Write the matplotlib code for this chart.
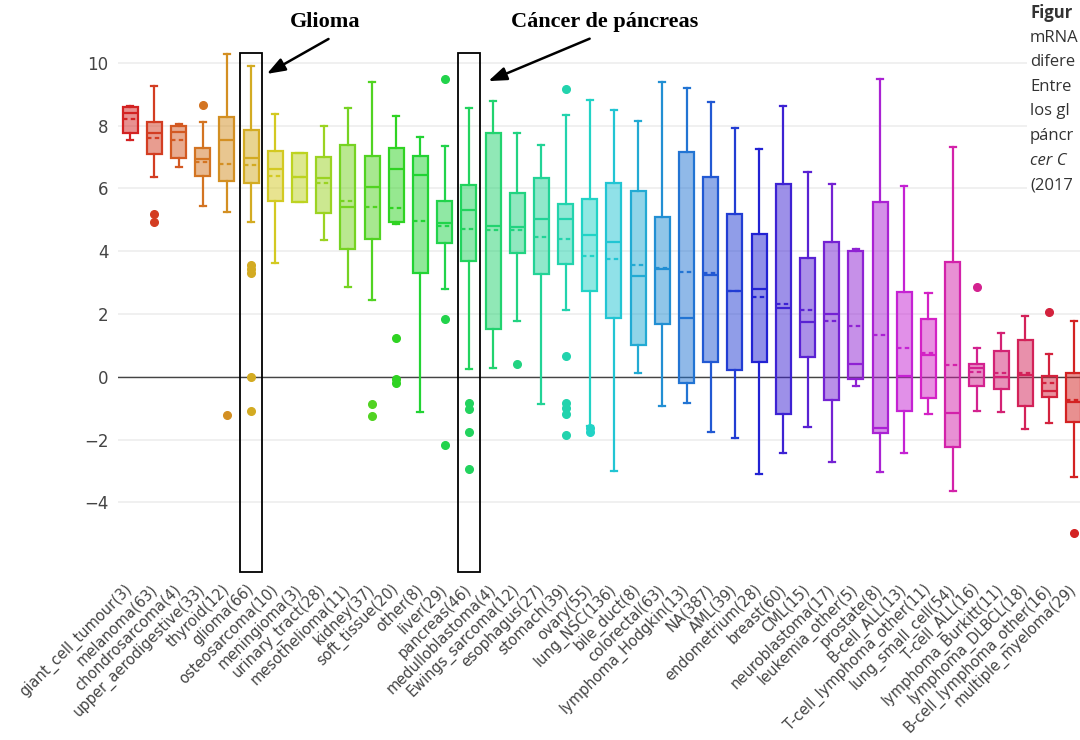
import colorsys
import numpy as np
import matplotlib
matplotlib.use("Agg")
import matplotlib.pyplot as plt
from matplotlib.patches import Rectangle

# expression per tumour type (box stats read per group)
labels = ["giant_cell_tumour(3)", "melanoma(63)", "chondrosarcoma(4)", "upper_aerodigestive(33)",
          "thyroid(12)", "glioma(66)", "osteosarcoma(10)", "meningioma(3)", "urinary_tract(28)",
          "mesothelioma(11)", "kidney(37)", "soft_tissue(20)", "other(8)", "liver(29)",
          "pancreas(46)", "medulloblastoma(4)", "Ewings_sarcoma(12)", "esophagus(27)",
          "stomach(39)", "ovary(55)", "lung_NSC(136)", "bile_duct(8)", "colorectal(63)",
          "lymphoma_Hodgkin(13)", "NA(387)", "AML(39)", "endometrium(28)", "breast(60)",
          "CML(15)", "neuroblastoma(17)", "leukemia_other(5)", "prostate(8)", "B-cell_ALL(13)",
          "T-cell_lymphoma_other(11)", "lung_small_cell(54)", "T-cell_ALL(16)",
          "lymphoma_Burkitt(11)", "lymphoma_DLBCL(18)", "B-cell_lymphoma_other(16)",
          "multiple_myeloma(29)"]

q1 = [7.75, 7.08, 6.95, 6.40, 6.23, 6.18, 5.59, 5.55, 5.20, 4.06, 4.38, 4.93, 3.29, 4.25,
      3.68, 1.53, 3.93, 3.26, 3.58, 2.73, 1.88, 1.00, 1.69, -0.19, 0.48, 0.21, 0.48, -1.20,
      0.64, -0.74, -0.07, -1.78, -1.08, -0.67, -2.23, -0.29, -0.39, -0.92, -0.64, -1.43]
med = [8.40, 7.77, 7.80, 6.92, 7.54, 6.95, 6.63, 6.37, 6.32, 5.41, 6.05, 6.62, 6.42, 4.88,
       5.31, 4.80, 4.78, 5.01, 5.03, 4.50, 4.30, 3.21, 3.42, 1.86, 3.24, 2.74, 2.78, 2.18,
       1.73, 1.99, 0.40, -1.62, 0.03, 0.69, -1.17, 0.27, 0.00, 0.05, -0.46, -0.80]
q3 = [8.60, 8.12, 7.98, 7.29, 8.28, 7.86, 7.19, 7.14, 6.99, 7.38, 7.03, 7.29, 7.03, 5.59,
      6.09, 7.77, 5.84, 6.32, 5.51, 5.65, 6.16, 5.93, 5.10, 7.17, 6.37, 5.18, 4.56, 6.13,
      3.79, 4.30, 4.00, 5.55, 2.71, 1.83, 3.66, 0.40, 0.83, 1.17, 0.03, 0.11]
lo = [7.55, 6.37, 6.69, 5.45, 5.25, 4.94, 3.63, 5.55, 4.35, 2.87, 2.44, 4.85, -1.13, 2.80,
      0.23, 0.29, 1.79, -0.86, 2.12, -1.57, -3.00, 0.13, -0.93, -0.83, -1.75, -1.94, -3.10,
      -2.44, -1.59, -2.71, -0.30, -3.05, -2.44, -1.20, -3.63, -1.08, -1.11, -1.67, -1.49,
      -3.18]
hi = [8.62, 9.26, 8.05, 8.10, 10.28, 9.90, 8.37, 7.14, 7.98, 8.55, 9.39, 8.30, 7.64, 7.35,
      8.57, 8.78, 7.75, 7.37, 8.35, 8.80, 8.49, 8.14, 9.39, 9.18, 8.74, 7.93, 7.24, 8.63,
      6.51, 6.13, 4.06, 9.47, 6.07, 2.68, 7.30, 0.93, 1.38, 1.93, 0.71, 1.78]
mean = [8.20, 7.59, 7.54, 6.85, 6.77, 6.74, 6.39, 6.35, 6.18, 5.60, 5.39, 5.38, 4.96, 4.80,
        4.69, 4.67, 4.67, 4.46, 4.37, 3.84, 3.74, 3.55, 3.45, 3.34, 3.30, 2.72, 2.55, 2.31,
        2.12, 1.78, 1.62, 1.33, 0.90, 0.74, 0.37, 0.16, 0.13, 0.11, -0.21, -0.75]
outliers = [[], [5.18, 4.94], [], [8.65], [-1.22], [3.56, 3.42, 3.29, 0.0, -1.09], [], [], [],
            [], [-0.88, -1.25], [1.22, -0.08, -0.21], [], [9.47, 1.85, -2.19],
            [-0.83, -1.02, -1.76, -2.95], [], [0.42], [],
            [9.15, 0.66, -0.83, -0.99, -1.18, -1.87], [-1.62, -1.76], [], [], [], [], [], [],
            [], [], [], [], [], [], [], [], [], [2.85], [], [], [2.07], [-4.97]]

# caption column, cut by the right page edge
caption = ["Figur", "mRNA", "difere", "Entre", "los gl", "páncr", "cer C", "(2017"]

n = len(labels)


def box_color(i):
    # hue wheel from red back to red, pushed a bit faster through yellow-green
    h = 360.0 * i / (n - 1)
    h += 15 * np.exp(-((h - 110) / 35) ** 2)
    return colorsys.hls_to_rgb((h % 360) / 360, 0.48, 0.72)


fig = plt.figure(figsize=(10.8, 7.4), dpi=100)
ax = fig.add_axes([0.1093, 0.2406, 0.896, 0.7001])

for i in range(n):
    c = box_color(i)
    st = dict(q1=q1[i], med=med[i], q3=q3[i], whislo=lo[i], whishi=hi[i],
              mean=mean[i], fliers=outliers[i])
    ax.bxp([st], positions=[i], widths=0.62, capwidths=0.25, patch_artist=True,
           showmeans=True, meanline=True,
           boxprops=dict(facecolor=(*c, 0.5), edgecolor=c, linewidth=1.6),
           medianprops=dict(color=c, linewidth=1.6),
           meanprops=dict(color=c, linewidth=1.6, linestyle=(0, (2, 1.5))),
           whiskerprops=dict(color=c, linewidth=1.6),
           capprops=dict(color=c, linewidth=1.6),
           flierprops=dict(marker="o", markerfacecolor=c, markeredgecolor=c,
                           markersize=5.5))

ax.set_xlim(-0.5, n - 0.5)
ax.set_ylim(-5.9, 10.6)
ax.set_yticks(range(-4, 11, 2))
ax.yaxis.grid(True, color="#eeeeee", linewidth=1.2, zorder=0)
ax.set_axisbelow(True)
ax.axhline(0, color="#444444", linewidth=1.0, zorder=1)
for s in ax.spines.values():
    s.set_visible(False)
ax.tick_params(axis="y", length=0, pad=7, labelsize=12, labelcolor="#444444")
ax.tick_params(axis="x", length=0, pad=18)
ax.set_xticks(range(n))
ax.set_xticklabels(labels, rotation=45, ha="right", va="center", rotation_mode="anchor",
                   fontsize=10.5, color="#444444")

# boxes + arrows marking glioma and pancreas
for idx, name, tx in [(5, "Glioma", 8.05), (14, "Cáncer de páncreas", 19.6)]:
    ax.add_patch(Rectangle((idx - 0.45, -6.22), 0.92, 16.53, fill=False,
                           edgecolor="black", linewidth=1.3, clip_on=False, zorder=5))
    ax.text(tx, 11.3, name, ha="center", va="center", fontsize=16, fontweight="bold",
            family="Liberation Serif", clip_on=False)
ax.annotate("", xy=(5.55, 9.6), xytext=(8.3, 10.8), annotation_clip=False,
            arrowprops=dict(arrowstyle="-|>,head_length=1.1,head_width=0.4",
                            color="black", lw=1.8))
ax.annotate("", xy=(14.7, 9.38), xytext=(19.1, 10.8), annotation_clip=False,
            arrowprops=dict(arrowstyle="-|>,head_length=1.1,head_width=0.4",
                            color="black", lw=1.8))

fig.patches.append(Rectangle((1027 / 1080, 1 - 200 / 740), 0.1, 0.3,
                             transform=fig.transFigure, facecolor="white",
                             edgecolor="none", zorder=10))
for k, line in enumerate(caption):
    fig.text(1030 / 1080, 1 - (13 + 24.6 * k) / 740, line, fontsize=12, family="Open Sans",
             va="center", ha="left", color="#333333", zorder=11,
             fontweight="bold" if k == 0 else "normal",
             style="italic" if k == 6 else "normal")

fig.savefig("out.png", dpi=100)
